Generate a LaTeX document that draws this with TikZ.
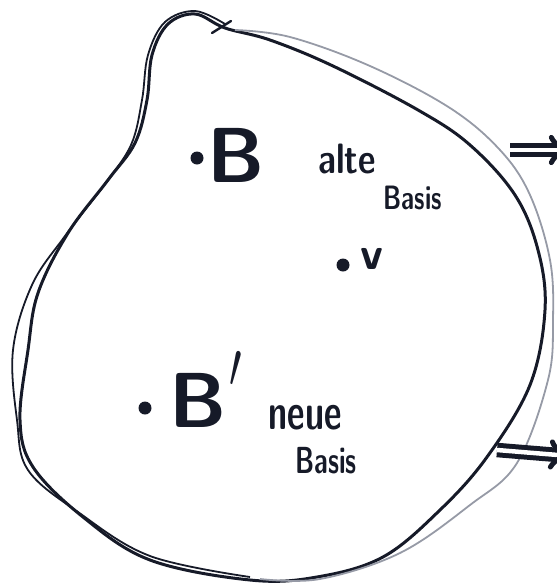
\documentclass[tikz,border=0pt]{standalone}
\usepackage{amsmath,amssymb}
\usepackage{graphicx}
\usetikzlibrary{arrows.meta,calc}
\definecolor{ink}{RGB}{22,26,40}
\definecolor{faintink}{RGB}{150,154,166}
\tikzset{outline/.style={ink,line width=3pt,line join=round},
 echo/.style={ink,line width=1.8pt},
 echofaint/.style={faintink,line width=1.8pt},
 vecpoint/.style={circle,fill=ink,inner sep=0pt,minimum size=13pt},
 bigletter/.style={ink,font=\sffamily\bfseries\fontsize{78}{78}\selectfont,inner sep=0pt},
 word/.style={ink,font=\sffamily\bfseries\fontsize{34}{34}\selectfont,inner sep=0pt},
 smallword/.style={ink,font=\sffamily\bfseries\fontsize{26}{26}\selectfont,inner sep=0pt},
 implies/.style={ink,double=white,double distance=4.5pt,line width=5pt,-{Implies}}}

\begin{document}
\begin{tikzpicture}[x=1pt,y=-1pt]
\useasboundingbox (0,0) rectangle (557,587);
\clip (0,0) rectangle (557,587);
% the set
\draw[outline] plot[smooth cycle,tension=0.6] coordinates {
 (225,28) (195,14) (168,24) (152,55) (147,100) (135,143) (108,180) (68,233)
 (38,293) (28,350) (20,420) (33,467) (83,517) (150,560) (250,580) (317,577)
 (383,557) (440,510) (487,457) (530,385) (545,310) (538,250) (515,195)
 (470,145) (418,110) (333,66) (270,40)};
\draw[echo] plot[smooth,tension=0.6] coordinates {
 (250,577) (150,556) (78,512) (28,470) (17,420) (13,350) (32,285) (65,236)
 (104,185) (131,145) (142,100) (148,55) (165,22) (195,11) (225,24)};
\draw[echofaint] plot[smooth,tension=0.6] coordinates {
 (235,30) (290,37) (370,66) (450,108) (500,150) (530,195) (550,260)
 (553,320) (548,380) (517,463) (470,505) (400,553) (320,579) (260,579)};
\draw[ink,line width=2.4pt,line cap=round] (212,33)--(231,21);
% old basis
\node[vecpoint] (dotB) at (197,158) {};
\node[bigletter] (B) at (236,155) {B};
\node[word,anchor=base west] (alte) at (318,173) {\scalebox{1}[1.25]{alte}};
\node[smallword] (Basisalt) at (413,198) {\scalebox{0.95}[1.3]{Basis}};
% the vector
\node[vecpoint] (dotv) at (343,265) {};
\node[word,font=\sffamily\bfseries\fontsize{46}{46}\selectfont] (v) at (372,259) {v};
% new basis
\node[vecpoint] (dotBn) at (145,408) {};
\node[bigletter] (Bn) at (198,400) {B};
\node[ink,font=\fontsize{24}{24}\selectfont,inner sep=0pt] (prime) at (236,370) {\scalebox{1.8}[2.6]{$\prime$}};
\node[word] (neue) at (305,418) {\scalebox{1}[1.5]{neue}};
\node[smallword] (Basisneu) at (326,461) {\scalebox{1}[1.45]{Basis}};
% arrows
\coordinate (arrA) at (510,150);
\coordinate (arrAend) at (570,150);
\coordinate (arrB) at (497,450);
\coordinate (arrBend) at (570,456);
\draw[implies] (arrA)--(arrAend);
\draw[implies] (arrB)--(arrBend);
\end{tikzpicture}
\end{document}
